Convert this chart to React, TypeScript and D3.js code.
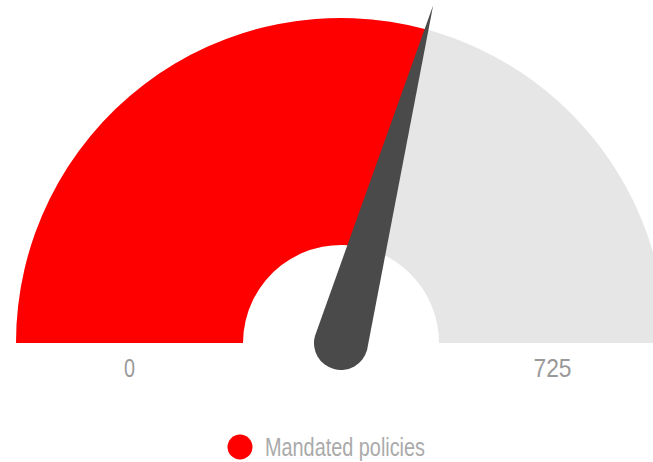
import React from 'react';
import * as d3 from 'd3';

const seriesName = 'Mandated policies';
const gaugeMin = 0;
const gaugeMax = 725;
const gaugeValue = 424;
const tickLabels = ['0', '725'];

const W = 653;
const H = 462;

const App: React.FC = () => {
  const cx = 341;
  const cy = 343;
  const outerR = 325;
  const innerR = 98;

  // angle in radians, 0 = up, -pi/2 = left
  const angle = d3.scaleLinear()
    .domain([gaugeMin, gaugeMax])
    .range([-Math.PI / 2, Math.PI / 2]);

  const arc = d3.arc<{ start: number; end: number }>()
    .innerRadius(innerR)
    .outerRadius(outerR)
    .startAngle(d => d.start)
    .endAngle(d => d.end);

  const bg = arc({ start: angle(gaugeMin), end: angle(gaugeMax) }) || '';
  const fg = arc({ start: angle(gaugeMin), end: angle(gaugeValue) }) || '';

  // Needle: rounded base, tapering to a point
  const a = angle(gaugeValue);
  const baseR = 27;
  const len = 350;
  const ux = Math.sin(a), uy = -Math.cos(a);
  const px = -uy, py = ux;
  const p = d3.path();
  p.moveTo(px * baseR, py * baseR);
  p.lineTo(ux * len, uy * len);
  p.lineTo(-px * baseR, -py * baseR);
  const back = Math.atan2(-py, -px);
  p.arc(0, 0, baseR, back, back - Math.PI, true);
  p.closePath();

  const labelX = [
    cx - (outerR + innerR) / 2,
    cx + (outerR + innerR) / 2,
  ];
  const labelW = [11, 38];

  const font = '"Liberation Sans Narrow", "Liberation Sans", sans-serif';

  return (
    <svg width={W} height={H} style={{ position: 'absolute', left: 0, top: 0 }}>
      <rect width={W} height={H} fill="#ffffff" />
      <g transform={`translate(${cx},${cy})`}>
        <path d={bg} fill="#e6e6e6" />
        <path d={fg} fill="#ff0000" />
      </g>
      {tickLabels.map((t, i) => (
        <text key={t} x={labelX[i] - labelW[i] / 2} y={377} fontFamily={font}
          fontSize={26} fill="#999999" textLength={labelW[i]}
          lengthAdjust="spacingAndGlyphs">{t}</text>
      ))}
      <g transform={`translate(${cx},${cy})`}>
        <path d={p.toString()} fill="#4a4a4a" />
      </g>
      <g transform="translate(240,447)">
        <circle r={12.5} fill="#ff0000" />
        <text x={25} y={9} fontFamily={font} fontSize={25} fill="#aaaaaa"
          textLength={160} lengthAdjust="spacingAndGlyphs">{seriesName}</text>
      </g>
    </svg>
  );
};

export default App;
